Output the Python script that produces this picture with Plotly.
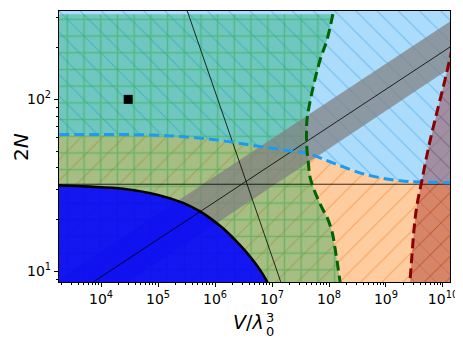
import plotly.graph_objects as go

# ---------------- data ----------------
# solid black boundary (top of the blue region)
bnd_V = [1.0e3, 1.83e3, 6.41e3, 2.43e4, 9.6e4, 2.75e5, 5.46e5, 8.17e5, 1.38e6, 2.75e6, 4.11e6, 6.15e6, 8.17e6, 8.6e6]
bnd_N = [31.9, 31.6, 31.1, 30.2, 27.9, 25.0, 22.3, 20.4, 17.8, 14.2, 12.2, 10.2, 8.71, 8.3]

# blue dashed boundary
thr_V = [1.0e3, 1.0e4, 7.2e4, 2.75e5, 1.08e6, 4.1e6, 1.56e7, 4.1e7, 1.17e8, 4.6e8, 1.76e9, 3.9e9, 1.5e10]
thr_N = [62.5, 62.5, 62.1, 60.7, 58.1, 54.3, 50.8, 48.6, 42.7, 36.4, 33.6, 33.1, 32.7]

# dark green dashed boundary
grn_V = [1.17e8, 9.2e7, 6.95e7, 4.97e7, 4.11e7, 4.03e7, 4.11e7, 4.34e7, 4.64e7, 5.24e7, 6.15e7, 7.85e7, 9.2e7, 1.13e8, 1.33e8, 1.58e8]
grn_N = [313, 221, 169, 108, 75.9, 62.1, 50.8, 42.8, 35.4, 31.0, 27.1, 22.8, 20.7, 17.0, 12.5, 8.5]

# dark red dashed boundary
red_V = [1.45e10, 1.33e10, 1.01e10, 7.24e9, 5.46e9, 4.23e9, 3.46e9, 3.10e9, 2.86e9, 2.62e9]
red_N = [200, 174, 118, 75.9, 50.8, 33.3, 23.8, 17.5, 12.5, 8.5]

# thin reference lines
hline_N = 32.1
diag_V = [6.0e3, 1.5e10]
diag_N = [8.3, 207]
steep_V = [3.14e5, 1.49e7]
steep_N = [339, 8.32]

# grey band around the diagonal line
band_V = [1.0e3, 2.0e10]
band_hi = [7.9, 310]
band_lo = [4.1, 166]

# marker
pt_V = [3.0e4]
pt_N = [100]

x_major = [1e4, 1e5, 1e6, 1e7, 1e8, 1e9, 1e10]
x_major_text = ["10<sup>4</sup>", "10<sup>5</sup>", "10<sup>6</sup>", "10<sup>7</sup>",
                "10<sup>8</sup>", "10<sup>9</sup>", "10<sup>10</sup>"]
y_major = [10, 100]
y_major_text = ["10<sup>1</sup>", "10<sup>2</sup>"]

# ---------------- figure ----------------
XLO, XHI = 1e2, 1e12
YLO, YHI = 5.0, 500.0

fig = go.Figure()

def region(xs, ys, bg, fg, shape, size, sol, fgop):
    fig.add_trace(go.Scatter(
        x=xs, y=ys, mode="lines", fill="toself", line=dict(width=0),
        fillcolor=bg,
        fillpattern=dict(shape=shape, size=size, solidity=sol, bgcolor=bg,
                         fgcolor=fg, fgopacity=fgop, fillmode="replace"),
        hoverinfo="skip", showlegend=False))

# orange: below blue dashed
region(thr_V + [XHI, XLO], thr_N + [YLO, YLO],
       "rgba(255,127,14,0.40)", "rgb(235,130,40)", "/", 15, 0.07, 0.55)
# light blue: above blue dashed
region(thr_V + [XHI, XLO], thr_N + [YHI, YHI],
       "rgba(135,206,250,0.70)", "rgb(40,150,230)", "\\", 15, 0.07, 0.45)
# green: left of green dashed
region(grn_V + [XLO, XLO], grn_N + [YLO, grn_N[0]],
       "rgba(0,160,80,0.35)", "rgb(40,170,60)", "+", 16.7, 0.17, 0.45)
# red: right of red dashed
region(red_V + [XHI, XHI], red_N + [YLO, red_N[0]],
       "rgba(139,0,0,0.35)", "rgb(140,30,30)", "x", 15, 0.07, 0.45)

# grey band
fig.add_trace(go.Scatter(
    x=band_V + band_V[::-1], y=band_hi + band_lo[::-1], mode="lines", fill="toself",
    line=dict(width=0), fillcolor="rgba(128,128,128,0.72)",
    hoverinfo="skip", showlegend=False))

# blue solid region
fig.add_trace(go.Scatter(
    x=bnd_V + [bnd_V[-1], XLO], y=bnd_N + [YLO, YLO], mode="lines", fill="toself",
    line=dict(width=0, shape="spline"), fillcolor="rgba(0,0,255,0.88)",
    hoverinfo="skip", showlegend=False))

def line(xs, ys, color, width, dash="solid", shape="linear"):
    fig.add_trace(go.Scatter(x=xs, y=ys, mode="lines",
                             line=dict(color=color, width=width, dash=dash, shape=shape),
                             hoverinfo="skip", showlegend=False))

line([XLO, XHI], [hline_N, hline_N], "black", 0.8)
line(diag_V, diag_N, "black", 0.8)
line(steep_V, steep_N, "black", 0.8)
line(bnd_V, bnd_N, "black", 2.6, shape="spline")
line(thr_V, thr_N, "#1e9bf0", 3, dash="10px,5px", shape="spline")
line(grn_V, grn_N, "#006400", 3, dash="10px,5px", shape="spline")
line(red_V, red_N, "#8b0000", 3, dash="10px,5px", shape="spline")

fig.add_trace(go.Scatter(x=pt_V, y=pt_N, mode="markers",
                         marker=dict(symbol="square", size=9, color="black"),
                         hoverinfo="skip", showlegend=False))

def minor_vals(lo_exp, hi_exp):
    out = []
    for e in range(lo_exp, hi_exp + 1):
        for k in range(2, 10):
            out.append(k * 10 ** e)
    return out

font = dict(family="DejaVu Sans", size=14, color="black")

# the page body has an 8px default margin, so the figure is shifted by 8px;
# size and margins compensate so the plot area lands at x 59..450, y 11..282
fig.update_layout(
    width=455, height=336,
    margin=dict(l=51, r=13, t=3, b=62, autoexpand=False),
    paper_bgcolor="white", plot_bgcolor="white",
    font=font,
    xaxis=dict(type="log", range=[3.263, 10.123], showgrid=False, zeroline=False,
               automargin=False,
               tickmode="array", tickvals=x_major, ticktext=x_major_text,
               ticks="outside", ticklen=4, tickwidth=1, tickcolor="black",
               showline=True, mirror=True, linecolor="black", linewidth=1.2,
               minor=dict(tickmode="array", tickvals=minor_vals(3, 10), ticks="outside",
                          ticklen=2, tickwidth=0.8, tickcolor="black", showgrid=False),
               tickfont=font),
    yaxis=dict(type="log", range=[0.938, 2.514], showgrid=False, zeroline=False,
               automargin=False,
               tickmode="array", tickvals=y_major, ticktext=y_major_text,
               ticks="outside", ticklen=4, tickwidth=1, tickcolor="black",
               showline=True, mirror=True, linecolor="black", linewidth=1.2,
               minor=dict(tickmode="array", tickvals=minor_vals(0, 2), ticks="outside",
                          ticklen=2, tickwidth=0.8, tickcolor="black", showgrid=False),
               tickfont=font),
)

# axis titles as annotations (paper coordinates of the plot area)
def px2paper(px, py):
    return (px - 59) / 391.0, (282 - py) / 271.0

def label(px, py, text, size, angle=0):
    ax, ay = px2paper(px, py)
    fig.add_annotation(x=ax, y=ay, xref="paper", yref="paper", showarrow=False,
                       xanchor="center", yanchor="middle", textangle=angle,
                       text=text, font=dict(family="DejaVu Sans", size=size, color="black"))

label(248, 322, "<i>V</i>/<i>λ</i>", 19)
label(270, 317, "3", 13)
label(270, 331, "0", 13)
label(21, 147, "2<i>N</i>", 20, angle=-90)

fig.write_html("out.html")
